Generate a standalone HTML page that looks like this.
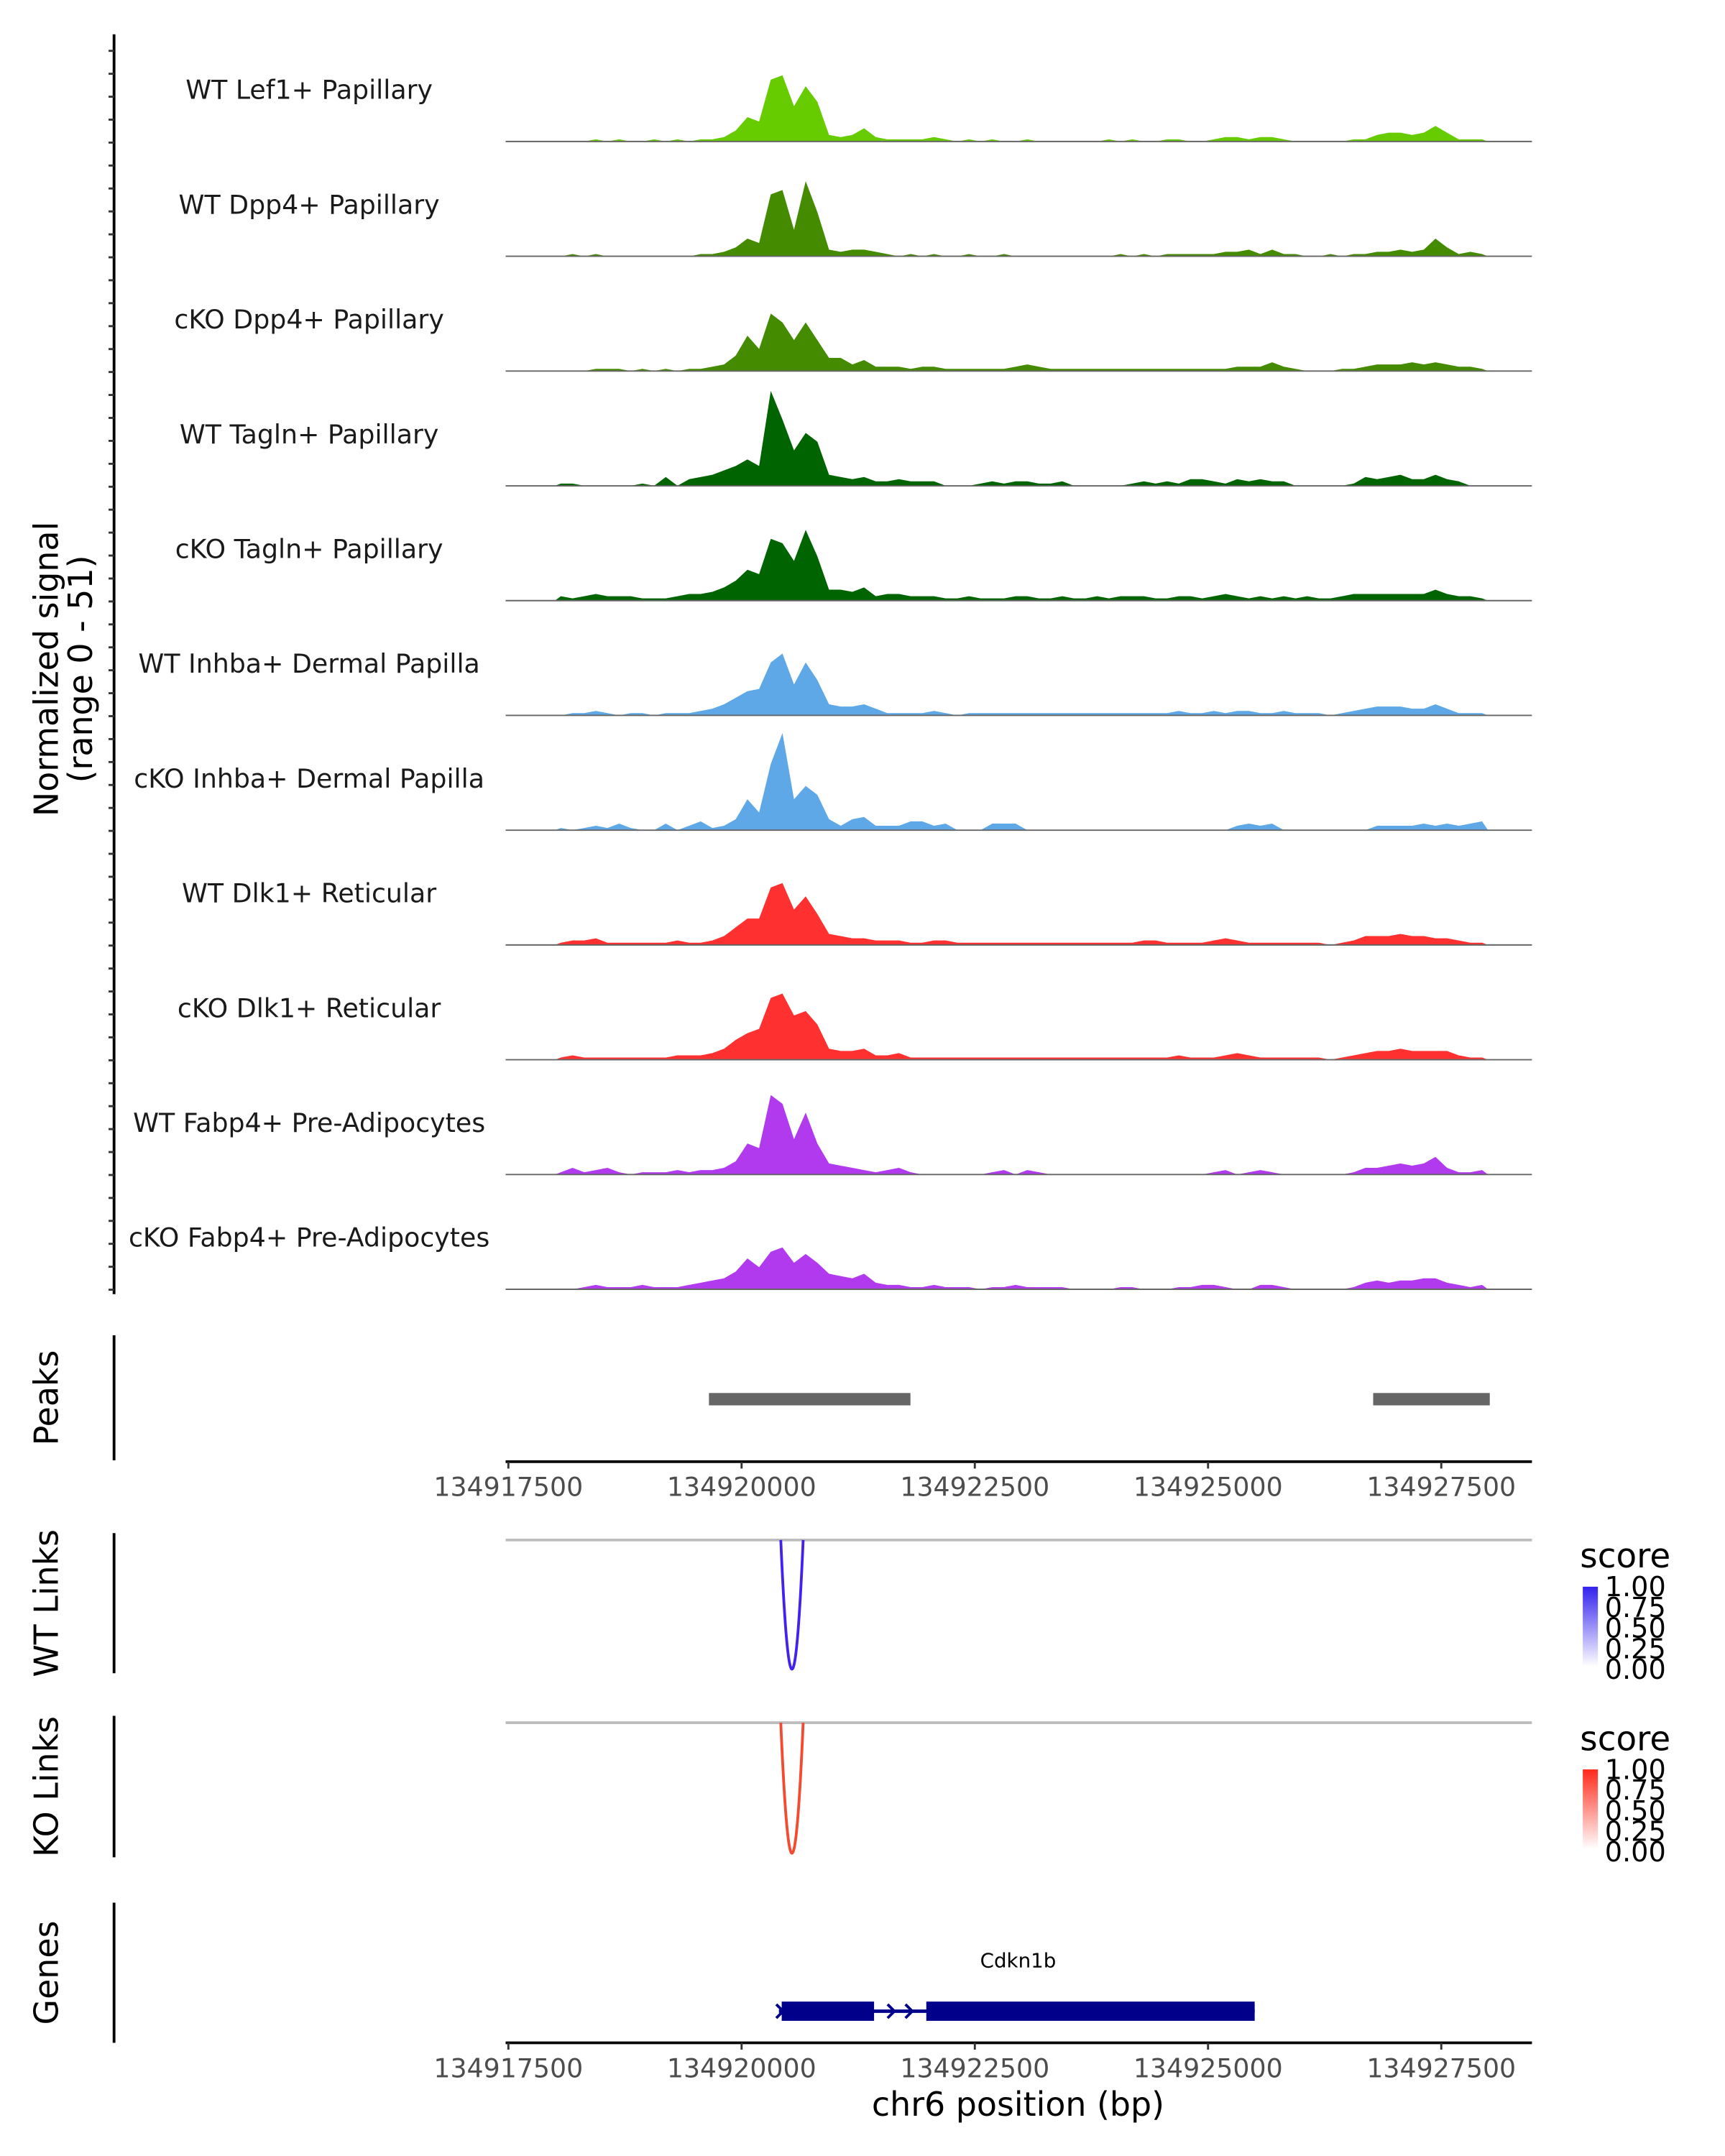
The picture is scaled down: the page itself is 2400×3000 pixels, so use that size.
<!DOCTYPE html>
<html><head><meta charset="utf-8"><style>
html,body{margin:0;padding:0;background:#fff;}
svg{display:block;font-family:"DejaVu Sans","Liberation Sans",sans-serif;}
</style></head><body>
<svg id="chart" width="2400" height="3000" viewBox="0 0 1255.5 1569.4" xmlns="http://www.w3.org/2000/svg">
<defs>
<linearGradient id="gBlue" x1="0" y1="1" x2="0" y2="0"><stop offset="0" stop-color="#ffffff"/><stop offset="1" stop-color="#3322ee"/></linearGradient>
<linearGradient id="gRed" x1="0" y1="1" x2="0" y2="0"><stop offset="0" stop-color="#ffffff"/><stop offset="1" stop-color="#ff2a1a"/></linearGradient>
</defs>
<g id="root"></g>
</svg>
<script>
const trackNames = ["WT Lef1+ Papillary","WT Dpp4+ Papillary","cKO Dpp4+ Papillary","WT Tagln+ Papillary","cKO Tagln+ Papillary","WT Inhba+ Dermal Papilla","cKO Inhba+ Dermal Papilla","WT Dlk1+ Reticular","cKO Dlk1+ Reticular","WT Fabp4+ Pre-Adipocytes","cKO Fabp4+ Pre-Adipocytes"];
const binStart = 134918000;
const binSize = 125;
const sig1 = [0,0,0,1,0,1,0,0,1,0,1,0, 1,1,2,5,11,9,28,30,16,25,18,3, 2,3,6,2,1,1,1,1,2,1,0,1, 0,1,0,0,1,0,0,0,0,0,0,1, 0,1,0,0,1,1,0,0,1,2,2,1, 2,2,1,0,0,0,0,0,1,1,3,4, 4,3,4,7,4,1,1,1];
const sig2 = [0,1,0,1,0,0,0,0,0,0,0,0, 1,1,2,4,8,6,28,30,12,34,20,3, 2,3,3,2,1,0,1,0,1,0,0,1, 0,0,1,0,0,0,0,0,0,0,0,0, 1,0,1,0,1,1,1,1,1,2,2,3, 1,3,1,1,0,0,1,0,1,1,2,2, 3,2,3,8,4,1,2,1];
const sig3 = [0,0,0,1,1,1,0,1,0,1,0,1, 1,2,3,7,16,10,26,22,14,22,14,6, 6,3,5,2,2,2,1,2,2,1,1,1, 1,1,1,2,3,2,1,1,1,1,1,1, 1,1,1,1,1,1,1,1,1,1,2,2, 2,4,2,1,0,0,0,1,1,2,3,3, 3,4,3,4,3,2,2,1];
const sig4 = [1,1,0,0,0,0,0,1,0,4,0,3, 4,5,7,9,12,9,43,30,16,24,20,5, 4,3,4,2,2,3,2,2,2,0,0,0, 1,2,1,2,2,1,1,2,0,0,0,0, 0,1,2,1,2,1,3,3,2,1,3,2, 3,2,2,0,0,0,0,0,1,4,3,4, 5,3,3,5,3,2,0,0];
const sig5 = [2,1,2,3,2,2,2,1,1,1,2,3, 3,4,6,9,14,12,28,26,18,32,20,5, 5,4,6,2,3,3,2,2,2,1,1,2, 1,1,1,2,2,1,1,2,1,1,2,1, 2,2,2,1,1,2,2,1,2,3,2,1, 2,1,2,1,2,1,1,2,3,3,3,3, 3,3,3,5,3,2,2,1];
const sig6 = [0,1,1,2,1,0,1,1,0,1,1,1, 2,3,5,8,11,12,24,28,14,24,16,5, 4,4,5,3,1,1,1,1,2,1,0,1, 1,1,1,1,1,1,1,1,1,1,1,1, 1,1,1,1,1,2,1,1,2,1,2,2, 1,1,2,1,1,1,0,1,2,3,4,4, 4,3,3,5,3,1,1,1];
const sig7 = [1,0,1,2,1,3,1,0,0,3,0,2, 4,1,2,5,14,8,30,44,14,20,16,5, 2,5,6,2,2,2,4,4,2,3,0,0, 0,3,3,3,0,0,0,0,0,0,0,0, 0,0,0,0,0,0,0,0,0,0,2,3, 2,3,0,0,0,0,0,0,0,0,2,2, 2,2,3,2,3,2,3,4];
const sig8 = [1,2,2,3,1,1,1,1,1,1,2,1, 1,2,4,8,12,12,26,28,16,22,14,5, 4,3,3,2,2,2,1,1,2,2,1,1, 1,1,1,1,1,1,1,1,1,1,1,1, 1,1,2,2,1,1,1,1,2,3,2,1, 1,1,1,1,1,1,0,1,2,4,4,4, 5,4,4,3,3,2,1,1];
const sig9 = [1,2,1,1,1,1,1,1,1,1,2,2, 2,3,5,9,12,14,28,30,20,22,16,5, 4,4,5,2,2,3,1,1,1,1,1,1, 1,1,1,1,1,1,1,1,1,1,1,1, 1,1,1,1,1,2,1,1,1,2,3,2, 1,1,1,1,1,1,0,1,2,3,4,4, 5,4,4,4,4,2,1,1];
const sig10 = [1,3,1,2,3,1,0,1,1,1,2,1, 2,2,3,6,14,12,36,32,16,28,14,5, 4,3,2,1,2,3,1,0,0,0,0,0, 0,1,2,0,2,1,0,0,0,0,0,0, 0,0,0,0,0,0,0,0,1,2,0,1, 2,1,0,0,0,0,0,0,1,3,3,4, 5,4,5,8,3,1,1,2];
const sig11 = [0,0,1,2,1,1,1,2,1,1,1,2, 3,4,5,8,14,10,17,19,12,16,12,7, 6,5,7,3,2,2,1,1,2,1,1,1, 0,1,1,2,1,1,1,1,0,0,0,0, 1,1,0,0,0,1,1,2,2,1,0,0, 2,2,1,0,0,0,0,0,1,3,4,3, 4,4,5,5,3,2,1,2];
const signals = [sig1,sig2,sig3,sig4,sig5,sig6,sig7,sig8,sig9,sig10,sig11];
const signalMax = 51;
const peakStarts = [134919650, 134926770];
const peakEnds = [134921810, 134928020];
const xTicks = [134917500,134920000,134922500,134925000,134927500];
const linkStart = [134920420];
const linkEnd = [134920660];
const linkScore = [1.0];
const legendTicks = ["1.00","0.75","0.50","0.25","0.00"];
const geneName = "Cdkn1b";
const geneStart = 134920400;
const geneEnd = 134925500;
const exonStarts = [134920430, 134921980];
const exonEnds = [134921420, 134925500];

const colors = ["#66cc00","#458b00","#458b00","#006400","#006400","#5fa8e8","#5fa8e8","#ff3030","#ff3030","#b23aee","#b23aee"];
const NS="http://www.w3.org/2000/svg";
const root=document.getElementById('root');
const X0=370, PXPER=169.75/2500, G0=134917500;
function xs(g){return X0+(g-G0)*PXPER;}
const trackH=83.55, base0=103, sigPx=82;
function ys(v,base){return base - v/signalMax*sigPx;}
function mk(tag,attrs,parent){const e=document.createElementNS(NS,tag);for(const k in attrs)e.setAttribute(k,attrs[k]);(parent||root).appendChild(e);return e;}
function txt(s,attrs,parent){const e=mk('text',attrs,parent);e.textContent=s;return e;}

let ax=mk('line',{x1:83,y1:25,x2:83,y2:942,stroke:'#000','stroke-width':2});


for(let y=37;y<942;y+=16.7){const t=mk('line',{x1:79,y1:y,x2:83,y2:y,stroke:'#333','stroke-width':1.5});

}
let yl=txt('Normalized signal',{x:0,y:0,'font-size':24,fill:'#000','text-anchor':'middle',transform:'translate(42,487) rotate(-90)'});


let yl2=txt('(range 0 - 51)',{x:0,y:0,'font-size':24,fill:'#000','text-anchor':'middle',transform:'translate(67,487) rotate(-90)'});



signals.forEach((arr,t)=>{
  const base=base0+t*trackH;
  const g=mk('g',{});
  
  
  let d='M'+xs(binStart).toFixed(1)+','+base;
  arr.forEach((v,i)=>{d+=' L'+xs(binStart+(i+0.5)*binSize).toFixed(1)+','+ys(v,base).toFixed(1);});
  d+=' L'+xs(binStart+arr.length*binSize).toFixed(1)+','+base+' Z';
  const p=mk('path',{d:d,fill:colors[t]},g);
  
  
  const bl=mk('line',{x1:368,y1:base,x2:1115,y2:base,stroke:'#666','stroke-width':1},g);
  
  
  const lb=txt(trackNames[t],{x:225,y:base-31,'font-size':19,fill:'#1a1a1a','text-anchor':'middle'},g);
  
  
});

function panelAxis(y1,y2,label,name){
  const l=mk('line',{x1:83,y1:y1,x2:83,y2:y2,stroke:'#000','stroke-width':2});
  
  
  const t=txt(label,{x:0,y:0,'font-size':24,fill:'#000','text-anchor':'middle',transform:'translate(42,'+((y1+y2)/2)+') rotate(-90)'});
  
  
}
function xAxis(y,name){
  const l=mk('line',{x1:368,y1:y,x2:1115,y2:y,stroke:'#000','stroke-width':2});
  
  
  xTicks.forEach(v=>{
    const tk=mk('line',{x1:xs(v),y1:y,x2:xs(v),y2:y+5,stroke:'#333','stroke-width':1.5});
    
    
    const tl=txt(String(v),{x:xs(v),y:y+25,'font-size':19,fill:'#4d4d4d','text-anchor':'middle'});
    
    
  });
}
panelAxis(972,1063,'Peaks','peaks');
peakStarts.forEach((s,i)=>{
  const r=mk('rect',{x:xs(s),y:1014,width:xs(peakEnds[i])-xs(s),height:9,fill:'#666'});
  
  
});
xAxis(1064,'peaks-x-axis');

function links(top,bot,label,name,color,grad){
  panelAxis(top-5,bot+3,label,name);
  const gl=mk('line',{x1:368,y1:top,x2:1115,y2:top,stroke:'#bdbdbd','stroke-width':2});
  
  
  linkStart.forEach((s,i)=>{
    const a=xs(s),b=xs(linkEnd[i]);
    let d='';
    for(let k=0;k<=40;k++){const tt=k/40;const x=a+(b-a)*tt;const y=top+(bot-top)*(1-Math.pow(2*tt-1,2))*linkScore[i];d+=(k?' L':'M')+x.toFixed(2)+','+y.toFixed(2);}
    const p=mk('path',{d:d,fill:'none',stroke:color,'stroke-width':2});
    
    
  });
  const lgTop=top+34;
  const lt=txt('score',{x:1150,y:lgTop-14,'font-size':24.5,fill:'#000'});
  
  
  const bar=mk('rect',{x:1152,y:lgTop,width:11,height:58,fill:'url(#'+grad+')'});
  
  
  legendTicks.forEach((s,i)=>{
    const ty=lgTop+i*15;
    const tl=txt(s,{x:1168,y:ty+7,'font-size':20,fill:'#000'});
    
    
  });
}
links(1121,1215,'WT Links','wt-links','#4422ee','gBlue');
links(1254,1349,'KO Links','ko-links','#f44a30','gRed');

panelAxis(1385,1487,'Genes','genes');
const gline=mk('line',{x1:xs(geneStart),y1:1464,x2:xs(geneEnd),y2:1464,stroke:'#00008b','stroke-width':2.5});


exonStarts.forEach((s,i)=>{
  const r=mk('rect',{x:xs(s),y:1457,width:xs(exonEnds[i])-xs(s),height:14,fill:'#00008b'});
  
  
});
[649,662,568].forEach(x=>{
  const p=mk('path',{d:'M'+(x-3)+',1459 L'+(x+2)+',1464 L'+(x-3)+',1469',fill:'none',stroke:'#00008b','stroke-width':2});
  
  
});
const gn=txt(geneName,{x:741,y:1432,'font-size':14.5,fill:'#000','text-anchor':'middle'});


xAxis(1487,'genes-x-axis');
const xt=txt('chr6 position (bp)',{x:741,y:1540,'font-size':24,fill:'#000','text-anchor':'middle'});


</script>
</body></html>
